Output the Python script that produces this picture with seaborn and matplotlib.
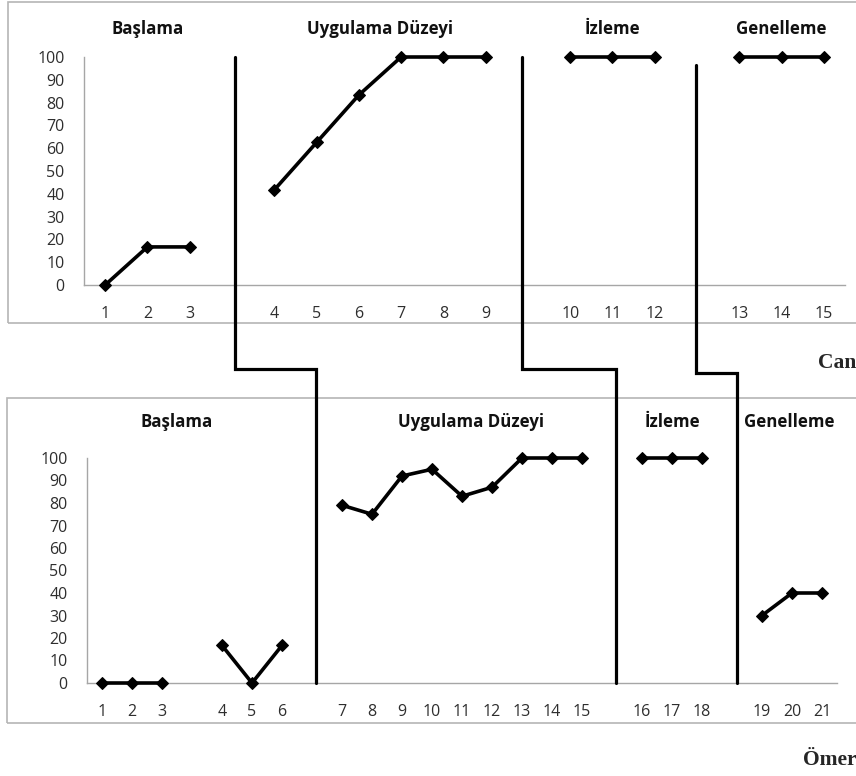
import pandas as pd
import matplotlib.pyplot as plt
import seaborn as sns
from matplotlib.lines import Line2D
from matplotlib.patches import Rectangle

# ---- data (session number, percent correct) ----
can_sessions = [[1, 2, 3], [4, 5, 6, 7, 8, 9], [10, 11, 12], [13, 14, 15]]
can_values = [[0, 16.7, 16.7], [41.7, 62.5, 83.3, 100, 100, 100], [100, 100, 100], [100, 100, 100]]

omer_sessions = [[1, 2, 3], [4, 5, 6], [7, 8, 9, 10, 11, 12, 13, 14, 15], [16, 17, 18], [19, 20, 21]]
omer_values = [[0, 0, 0], [16.7, 0, 16.7], [79, 75, 92, 95, 83, 87, 100, 100, 100], [100, 100, 100], [30, 40, 40]]

phase_names = ["Başlama", "Uygulama Düzeyi", "İzleme", "Genelleme"]
can_title_x = [1, 6.5, 12, 16]
omer_title_x = [2.5, 12.3, 19, 22.9]

# phase change step lines: top slot x, start y, step y (top data), bottom slot x
top_phase_x = [3.07, 9.86, 13.97]
top_phase_y0 = [100, 100, 96.5]
step_y = [-36.8, -36.8, -38.5]
bot_phase_x = [7.13, 17.13, 21.17]

sns.set_style("white")
plt.rcParams["font.family"] = ["Open Sans", "DejaVu Sans"]


def to_frame(sessions, values):
    rows = []
    for k, (ss, vv) in enumerate(zip(sessions, values)):
        for s, v in zip(ss, vv):
            rows.append({"slot": s - 1 + k, "session": s, "value": v, "seg": k})
    return pd.DataFrame(rows)


can = to_frame(can_sessions, can_values)
omer = to_frame(omer_sessions, omer_values)

W, H = 856, 776
fig = plt.figure(figsize=(W / 100, H / 100), dpi=100)


def px_axes(x0, x1, ytop, ybot):
    return fig.add_axes([x0 / W, 1 - ybot / H, (x1 - x0) / W, (ybot - ytop) / H])


# chart frames
fig.add_artist(Rectangle((8 / W, 1 - 323 / H), 900 / W, 321 / H, transform=fig.transFigure,
                         fill=False, edgecolor="#b5b5b5", lw=1.2))
fig.add_artist(Rectangle((7 / W, 1 - 723 / H), 900 / W, 325 / H, transform=fig.transFigure,
                         fill=False, edgecolor="#b5b5b5", lw=1.2))

ax1 = px_axes(84, 845, 57, 285)
ax2 = px_axes(87, 837, 458, 683)


def draw(ax, df, nslots, title_x, title_y):
    sns.lineplot(data=df, x="slot", y="value", units="seg", estimator=None, ax=ax,
                 color="black", lw=2.6, marker="D", markersize=6.5,
                 markeredgecolor="black", clip_on=False, zorder=5)
    ax.set_xlim(-0.5, nslots - 0.5)
    ax.set_ylim(0, 100)
    ax.set_xticks(df["slot"])
    ax.set_xticklabels(df["session"])
    ax.set_yticks(range(0, 101, 10))
    ax.tick_params(length=0, labelsize=11.5, colors="#2e2e2e")
    ax.tick_params(axis="x", pad=15)
    ax.tick_params(axis="y", pad=14)
    ax.set_xlabel("")
    ax.set_ylabel("")
    ax.patch.set_alpha(0)
    sns.despine(ax=ax)
    for s in ["left", "bottom"]:
        ax.spines[s].set_color("#a6a6a6")
        ax.spines[s].set_linewidth(1)
    for name, x in zip(phase_names, title_x):
        ax.text(x, title_y, name, ha="center", va="center", fontsize=12.2,
                fontweight="bold", color="#111111")


draw(ax1, can, 18, can_title_x, 112.3)
draw(ax2, omer, 25, omer_title_x, 116)

# phase change lines crossing both charts
inv = fig.transFigure.inverted()
for xt, y0, ys, xb in zip(top_phase_x, top_phase_y0, step_y, bot_phase_x):
    p0 = ax1.transData.transform((xt, y0))
    p1 = ax1.transData.transform((xt, ys))
    p2 = (ax2.transData.transform((xb, 0))[0], p1[1])
    p3 = ax2.transData.transform((xb, 0))
    pts = inv.transform([p0, p1, p2, p3])
    fig.add_artist(Line2D(pts[:, 0], pts[:, 1], transform=fig.transFigure,
                          color="black", lw=2.3, solid_joinstyle="miter", zorder=10))

fig.text(818 / W, 1 - 363 / H, "Can", ha="left", va="center", fontsize=15.5,
         fontweight="bold", family="Liberation Serif")
fig.text(803 / W, 1 - 760 / H, "Ömer", ha="left", va="center", fontsize=15.5,
         fontweight="bold", family="Liberation Serif")

plt.savefig("out.png", dpi=100)
